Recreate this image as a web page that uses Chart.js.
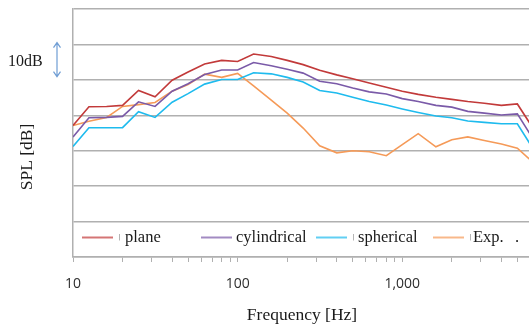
<!DOCTYPE html>
<html>
<head>
<meta charset="utf-8">
<style>
  html, body { margin: 0; padding: 0; overflow: hidden; background: #fff; }
  #spl { display: block; }
</style>
<script src="https://cdn.jsdelivr.net/npm/chart.js@4/dist/chart.umd.min.js"></script>
</head>
<body>
<canvas id="spl" width="535" height="324"></canvas>
<script>
// 1/3 octave band centres [Hz]
const freqs = [10, 12.5, 16, 20, 25, 31.5, 40, 50, 63, 80, 100, 125, 160, 200, 250, 315,
  400, 500, 630, 800, 1000, 1250, 1600, 2000, 2500, 3150, 4000, 5000, 6300];

// SPL, dB above the bottom grid line
const plane = [37.1, 42.4, 42.5, 42.8, 47.0, 45.2, 49.9, 52.2, 54.5, 55.5, 55.2, 57.3, 56.6, 55.5, 54.3, 52.7,
  51.4, 50.3, 49.1, 47.9, 46.8, 45.9, 45.1, 44.5, 43.9, 43.4, 42.8, 43.2, 36.0];
const cylindrical = [33.9, 39.3, 39.4, 39.7, 43.8, 42.5, 46.8, 48.9, 51.5, 52.8, 52.8, 54.9, 54.0, 53.0, 51.9, 49.6,
  48.9, 47.7, 46.6, 46.0, 44.7, 43.9, 42.8, 42.3, 41.1, 40.6, 40.1, 40.4, 33.0];
const spherical = [31.2, 36.5, 36.5, 36.5, 41.0, 39.4, 43.7, 46.1, 48.8, 50.1, 50.1, 52.0, 51.7, 50.7, 49.4, 47.0,
  46.3, 45.1, 43.9, 42.9, 41.8, 40.8, 39.8, 39.3, 38.4, 38.0, 37.6, 37.6, 30.2];
const experiment = [37.1, 38.3, 39.4, 42.5, 43.0, 43.6, 46.8, 48.7, 51.6, 50.7, 51.8, 48.3, 44.3, 40.6, 36.4, 31.4,
  29.4, 30.0, 29.7, 28.6, 31.7, 34.8, 31.1, 33.1, 33.9, 32.9, 31.9, 30.7, 26.5];

const seriesNames = ['plane', 'cylindrical', 'spherical', 'Exp.'];
const seriesColors = ['#c23a3a', '#7a5aa8', '#1ebbee', '#f59a58'];

// x axis ticks
const majorTicks = [10, 100, 1000];
const majorLabels = ['10', '100', '1,000'];
const minorTicks = [20, 30, 40, 50, 60, 70, 80, 90, 200, 300, 400, 500, 600, 700, 800, 900,
  2000, 3000, 4000, 5000, 6000];

const gridGrey = '#b0b0b0';

function points(values) {
  return freqs.map((f, i) => ({ x: f, y: values[i] }));
}

// titles, the 10dB marker and the legend sitting inside the plot
const overlay = {
  id: 'overlay',
  afterDraw(chart) {
    const ctx = chart.ctx;
    const y = chart.scales.y;
    ctx.save();
    ctx.fillStyle = '#1a1a1a';
    ctx.textBaseline = 'alphabetic';

    ctx.font = '17.5px "Liberation Serif"';
    ctx.textAlign = 'center';
    ctx.fillText('Frequency [Hz]', 302, 320);

    ctx.save();
    ctx.translate(31.5, 157);
    ctx.rotate(-Math.PI / 2);
    ctx.fillText('SPL [dB]', 0, 0);
    ctx.restore();

    // 10 dB scale marker
    ctx.font = '16px "Liberation Serif"';
    ctx.textAlign = 'left';
    ctx.fillText('10dB', 8, 65.5);
    const top = y.getPixelForValue(60.5);
    const bot = y.getPixelForValue(50.9);
    ctx.strokeStyle = '#6f9dd4';
    ctx.lineWidth = 1.2;
    ctx.beginPath();
    ctx.moveTo(57, top); ctx.lineTo(57, bot);
    ctx.moveTo(53.5, top + 5); ctx.lineTo(57, top); ctx.lineTo(60.5, top + 5);
    ctx.moveTo(53.5, bot - 5); ctx.lineTo(57, bot); ctx.lineTo(60.5, bot - 5);
    ctx.stroke();

    // legend
    const legendX = [82, 201, 316, 433];
    const textOffset = [43, 35, 42, 40];
    const stub = [true, false, true, true];
    const ly = 237.5;
    ctx.font = '16.5px "Liberation Serif"';
    seriesNames.forEach((name, i) => {
      const x0 = legendX[i];
      ctx.globalAlpha = 0.7;
      ctx.strokeStyle = seriesColors[i];
      ctx.lineWidth = 2;
      ctx.beginPath();
      ctx.moveTo(x0, ly); ctx.lineTo(x0 + 31, ly);
      ctx.stroke();
      ctx.globalAlpha = 1;
      if (stub[i]) {
        ctx.strokeStyle = '#b5b5b5';
        ctx.lineWidth = 1;
        ctx.beginPath();
        ctx.moveTo(x0 + 37.5, ly - 3.5); ctx.lineTo(x0 + 37.5, ly + 3);
        ctx.stroke();
      }
      ctx.fillStyle = '#1a1a1a';
      ctx.fillText(name, x0 + textOffset[i], 241.5);
    });
    ctx.fillText('.', 515, 241.5);
    ctx.restore();
  }
};

const datasets = [plane, cylindrical, spherical, experiment].map((values, i) => ({
  label: seriesNames[i],
  data: points(values),
  borderColor: seriesColors[i],
  backgroundColor: seriesColors[i],
  borderWidth: 1.6,
  pointRadius: 0,
  tension: 0,
  fill: false
}));

new Chart(document.getElementById('spl'), {
  type: 'line',
  data: { datasets: datasets },
  options: {
    responsive: false,
    animation: false,
    devicePixelRatio: 1,
    layout: { padding: { left: 73, top: 9, right: 0, bottom: 0 } },
    plugins: {
      legend: { display: false },
      tooltip: { enabled: false }
    },
    scales: {
      x: {
        type: 'logarithmic',
        min: 10,
        max: 6400,
        afterBuildTicks: (scale) => {
          scale.ticks = majorTicks.concat(minorTicks)
            .sort((a, b) => a - b)
            .map(v => ({ value: v, major: majorTicks.includes(v) }));
        },
        afterFit: (scale) => {
          scale.height = 67;
          scale.paddingLeft = 0;
          scale.paddingRight = 0;
        },
        ticks: {
          autoSkip: false,
          maxRotation: 0,
          padding: 14,
          color: '#2e2e2e',
          font: { family: '"Open Sans"', size: 14 },
          callback: (value) => {
            const k = majorTicks.indexOf(value);
            return k >= 0 ? majorLabels[k] : '';
          }
        },
        grid: { drawOnChartArea: false, drawTicks: true, tickLength: 5, color: gridGrey },
        border: { display: true, color: gridGrey, width: 1.5 }
      },
      y: {
        min: 0,
        max: 70,
        ticks: { display: false, stepSize: 10 },
        grid: { drawTicks: false, color: gridGrey, lineWidth: 1.5 },
        border: { display: true, color: gridGrey, width: 1.5 }
      }
    }
  },
  plugins: [overlay]
});
</script>
</body>
</html>
